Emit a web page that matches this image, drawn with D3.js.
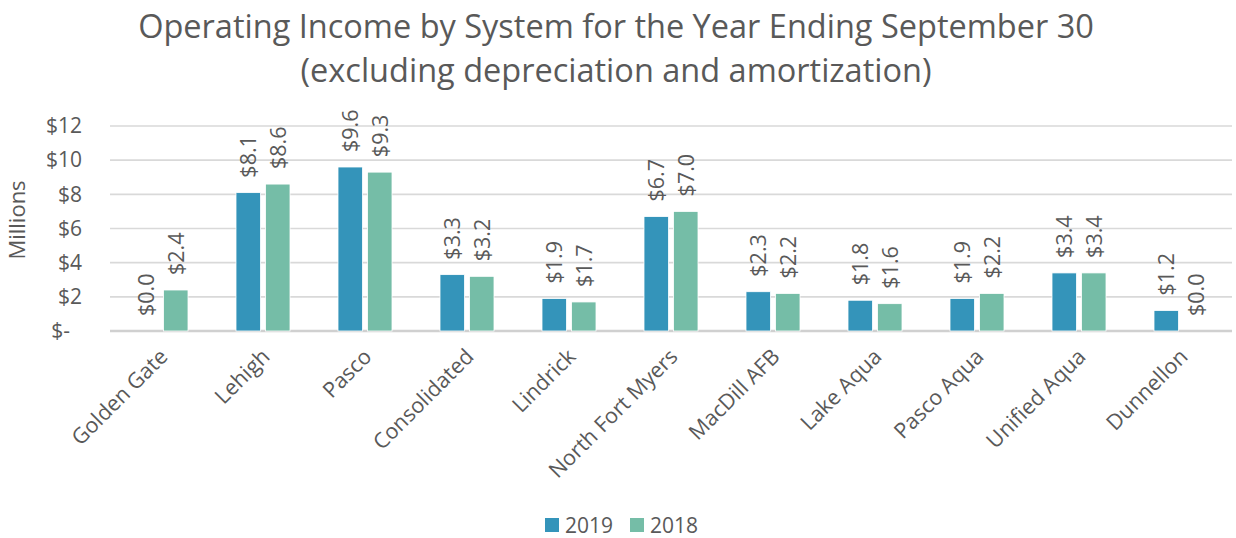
<!DOCTYPE html>
<html>
<head>
<meta charset="utf-8">
<script src="https://cdn.jsdelivr.net/npm/d3@7"></script>
<style>
  html, body { margin: 0; padding: 0; background: #fff; }
  svg { display: block; font-family: "Open Sans", sans-serif; }
  text { fill: #595959; }
</style>
</head>
<body>
<svg id="chart" width="1236" height="538"></svg>
<script>
// Operating income by system, in millions of dollars
const systems = ["Golden Gate", "Lehigh", "Pasco", "Consolidated", "Lindrick",
  "North Fort Myers", "MacDill AFB", "Lake Aqua", "Pasco Aqua", "Unified Aqua", "Dunnellon"];
const years = ["2019", "2018"];
const values2019 = [0.0, 8.1, 9.6, 3.3, 1.9, 6.7, 2.3, 1.8, 1.9, 3.4, 1.2];
const values2018 = [2.4, 8.6, 9.3, 3.2, 1.7, 7.0, 2.2, 1.6, 2.2, 3.4, 0.0];
const yTicks = [0, 2, 4, 6, 8, 10, 12];
const titleLines = ["Operating Income by System for the Year Ending September 30",
  "(excluding depreciation and amortization)"];
const colors = { "2019": "#3494ba", "2018": "#75bda7" };

const svg = d3.select("#chart");

const x = d3.scaleBand().domain(systems).range([110, 1232])
  .paddingInner(0.4706).paddingOuter(0.2353);
const x1 = d3.scaleBand().domain(years).range([0, x.bandwidth()]).paddingInner(0.17);
const y = d3.scaleLinear().domain([0, 12]).range([331, 126]);

const rows = systems.map((s, i) => ({ system: s, "2019": values2019[i], "2018": values2018[i] }));

// title
svg.append("g").selectAll("text").data(titleLines).join("text")
  .attr("x", 616).attr("y", (d, i) => 38 + i * 44)
  .attr("text-anchor", "middle")
  .style("font-size", "32.5px")
  .text(d => d);

// horizontal gridlines
svg.append("g").selectAll("line").data(yTicks).join("line")
  .attr("x1", 110).attr("x2", 1232)
  .attr("y1", d => y(d)).attr("y2", d => y(d))
  .attr("stroke", d => d === 0 ? "#d0d0d0" : "#d9d9d9")
  .attr("stroke-width", d => d === 0 ? 2.5 : 1.6);

// y axis labels
const yAxis = d3.axisLeft(y).tickValues(yTicks).tickSize(0).tickPadding(0)
  .tickFormat(d => d === 0 ? "$-" : "$" + d);
const yg = svg.append("g").attr("transform", "translate(82,0)").call(yAxis);
yg.select(".domain").remove();
yg.selectAll("text")
  .attr("fill", "#595959")
  .style("font-size", "21px")
  .style("font-family", "'Open Sans', sans-serif")
  .attr("dx", d => d === 0 ? -12 : 0);

svg.append("text")
  .attr("transform", "translate(17,220) rotate(-90)")
  .attr("text-anchor", "middle").attr("dy", "0.35em")
  .style("font-size", "22px")
  .text("Millions");

// bars
const groups = svg.append("g").selectAll("g").data(rows).join("g")
  .attr("transform", d => `translate(${x(d.system)},0)`);

groups.selectAll("rect").data(d => years.map(k => ({ key: k, value: d[k] })))
  .join("rect")
  .attr("x", d => x1(d.key)).attr("width", x1.bandwidth())
  .attr("y", d => y(d.value)).attr("height", d => y(0) - y(d.value))
  .attr("fill", d => colors[d.key])
  .attr("stroke", "#ffffff").attr("stroke-width", 0.8);

// value labels
groups.selectAll("text").data(d => years.map(k => ({ key: k, value: d[k] })))
  .join("text")
  .attr("transform", d => `translate(${x1(d.key) + x1.bandwidth() / 2},${y(d.value) - 15}) rotate(-90)`)
  .attr("dy", "0.36em")
  .style("font-size", "21.5px")
  .text(d => "$" + d.value.toFixed(1));

// category labels
svg.append("g").selectAll("text").data(systems).join("text")
  .attr("transform", d => `translate(${x(d) + x.bandwidth() / 2 + 8},358) rotate(-45)`)
  .attr("text-anchor", "end")
  .style("font-size", "21.5px")
  .text(d => d);

// legend
const legend = svg.append("g").selectAll("g").data(years).join("g")
  .attr("transform", (d, i) => `translate(${545 + i * 85},518)`);
legend.append("rect").attr("width", 14).attr("height", 14).attr("fill", d => colors[d]);
legend.append("text").attr("x", 20).attr("y", 7).attr("dy", "0.36em")
  .style("font-size", "21px").text(d => d);
</script>
</body>
</html>
